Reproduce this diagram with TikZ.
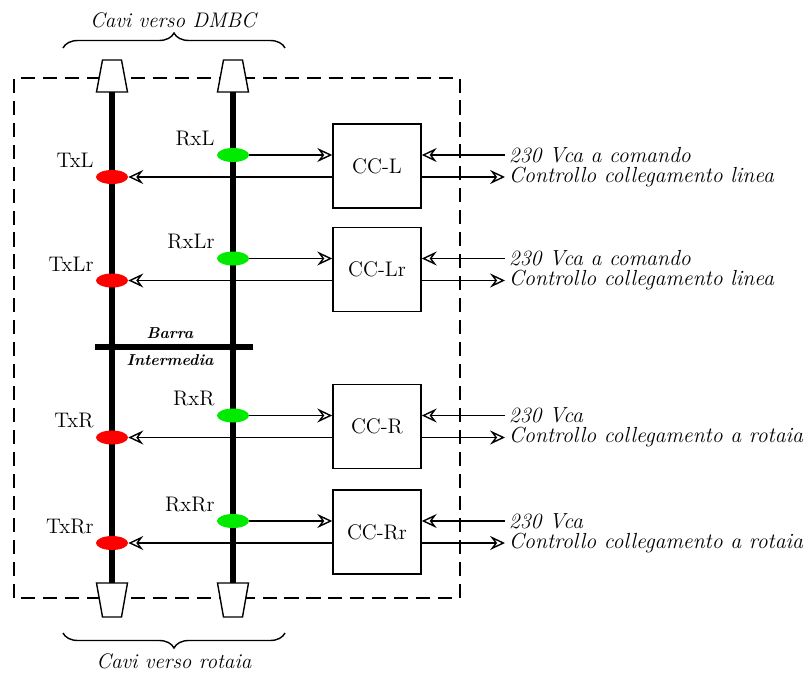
\documentclass[tikz,border=0pt]{standalone}
\usepackage{amsmath}
\usepackage{tikz}
\usetikzlibrary{arrows.meta, positioning, shapes.geometric, decorations.pathreplacing}

\definecolor{txred}{RGB}{255,0,0}
\definecolor{rxgreen}{RGB}{0,235,0}

\begin{document}
\begin{tikzpicture}[
        font=\large,
        bus/.style={line width=3.1pt},
        wire/.style={line width=0.8pt},
        sig/.style={line width=0.8pt, -{Stealth[open, length=8.5pt, width=8pt, inset=3pt]}},
        txnode/.style={ellipse, fill=txred, minimum width=0.64cm, minimum height=0.28cm, inner sep=0pt},
        rxnode/.style={ellipse, fill=rxgreen, minimum width=0.64cm, minimum height=0.28cm, inner sep=0pt},
        ccbox/.style={draw, fill=white, line width=0.9pt, minimum width=1.76cm, minimum height=1.68cm, inner sep=0pt},
        conn/.style={draw, fill=white, line width=0.8pt, line join=miter},
        lbl/.style={inner sep=1pt, anchor=south east},
        ext/.style={anchor=west, inner sep=2pt, font=\fontsize{12.4}{14}\selectfont\itshape},
        brc/.style={decorate, decoration={brace, amplitude=0.3cm}, line width=0.8pt},
        jdot/.style={circle, fill=black, minimum size=0.18cm, inner sep=0pt}
    ]
        \useasboundingbox (0,0) rectangle (16.22,13.44);

        % Enclosure
        \draw[wire, dash pattern=on 8pt off 4.5pt] (0.28,1.48) rectangle (9.2,11.88);

        % Cable connectors
        \path[conn] (2.05,12.24) -- (2.43,12.24) -- (2.55,11.6) -- (1.93,11.6) -- cycle;
        \path[conn] (4.47,12.24) -- (4.85,12.24) -- (4.97,11.6) -- (4.35,11.6) -- cycle;
        \path[conn] (1.93,1.78) -- (2.55,1.78) -- (2.43,1.1) -- (2.05,1.1) -- cycle;
        \path[conn] (4.35,1.78) -- (4.97,1.78) -- (4.85,1.1) -- (4.47,1.1) -- cycle;
        \coordinate (topT) at (2.24,11.6);
        \coordinate (topR) at (4.66,11.6);
        \coordinate (botT) at (2.24,1.78);
        \coordinate (botR) at (4.66,1.78);

        % Braces
        \draw[brc] (1.26,12.48) -- (5.7,12.48);
        \node (dmbc) at (3.48,13.04) {\textit{Cavi verso DMBC}};
        \draw[brc] (5.7,0.78) -- (1.26,0.78);
        \node (rotaia) at (3.48,0.22) {\textit{Cavi verso rotaia}};

        % Buses
        \draw[bus] (topT) -- (botT);
        \draw[bus] (topR) -- (botR);

        % Barra Intermedia
        \coordinate (barA) at (1.9,6.5);
        \coordinate (barB) at (5.06,6.5);
        \draw[bus] (barA) -- (barB);
        \node[jdot] (jT) at (2.24,6.5) {};
        \node[jdot] (jR) at (4.66,6.5) {};
        \node[font=\fontsize{9}{10}\selectfont\bfseries\itshape] (barra) at (3.4,6.78) {Barra};
        \node[font=\fontsize{9}{10}\selectfont\bfseries\itshape] (interm) at (3.4,6.24) {Intermedia};

        % CC-L
        \node[ccbox] (ccL) at (7.54,10.12) {CC-L};
        \node[rxnode] (rxL) at (4.66,10.34) {};
        \node[txnode] (txL) at (2.24,9.9) {};
        \node[lbl] (rxLlab) at (rxL.west |- rxL.north) {RxL};
        \node[lbl] (txLlab) at (txL.west |- txL.north) {TxL};
        \draw[sig] (rxL.east) -- (rxL.east -| ccL.west);
        \draw[sig] (txL.east -| ccL.west) -- (txL.east);
        \coordinate (inL) at (10.1,10.34);
        \coordinate (outL) at (10.1,9.9);
        \draw[sig] (inL) -- (inL -| ccL.east);
        \draw[sig] (outL -| ccL.east) -- (outL);
        \node[ext] (vL) at (inL) {230 Vca a comando};
        \node[ext] (cL) at (outL) {Controllo collegamento linea};

        % CC-Lr
        \node[ccbox] (ccLr) at (7.54,8.05) {CC-Lr};
        \node[rxnode] (rxLr) at (4.66,8.27) {};
        \node[txnode] (txLr) at (2.24,7.83) {};
        \node[lbl] (rxLrlab) at (rxLr.west |- rxLr.north) {RxLr};
        \node[lbl] (txLrlab) at (txLr.west |- txLr.north) {TxLr};
        \draw[sig] (rxLr.east) -- (rxLr.east -| ccLr.west);
        \draw[sig] (txLr.east -| ccLr.west) -- (txLr.east);
        \coordinate (inLr) at (10.1,8.27);
        \coordinate (outLr) at (10.1,7.83);
        \draw[sig] (inLr) -- (inLr -| ccLr.east);
        \draw[sig] (outLr -| ccLr.east) -- (outLr);
        \node[ext] (vLr) at (inLr) {230 Vca a comando};
        \node[ext] (cLr) at (outLr) {Controllo collegamento linea};

        % CC-R
        \node[ccbox] (ccR) at (7.54,4.91) {CC-R};
        \node[rxnode] (rxR) at (4.66,5.13) {};
        \node[txnode] (txR) at (2.24,4.69) {};
        \node[lbl] (rxRlab) at (rxR.west |- rxR.north) {RxR};
        \node[lbl] (txRlab) at (txR.west |- txR.north) {TxR};
        \draw[sig] (rxR.east) -- (rxR.east -| ccR.west);
        \draw[sig] (txR.east -| ccR.west) -- (txR.east);
        \coordinate (inR) at (10.1,5.13);
        \coordinate (outR) at (10.1,4.69);
        \draw[sig] (inR) -- (inR -| ccR.east);
        \draw[sig] (outR -| ccR.east) -- (outR);
        \node[ext] (vR) at (inR) {230 Vca};
        \node[ext] (cR) at (outR) {Controllo collegamento a rotaia};

        % CC-Rr
        \node[ccbox] (ccRr) at (7.54,2.8) {CC-Rr};
        \node[rxnode] (rxRr) at (4.66,3.02) {};
        \node[txnode] (txRr) at (2.24,2.58) {};
        \node[lbl] (rxRrlab) at (rxRr.west |- rxRr.north) {RxRr};
        \node[lbl] (txRrlab) at (txRr.west |- txRr.north) {TxRr};
        \draw[sig] (rxRr.east) -- (rxRr.east -| ccRr.west);
        \draw[sig] (txRr.east -| ccRr.west) -- (txRr.east);
        \coordinate (inRr) at (10.1,3.02);
        \coordinate (outRr) at (10.1,2.58);
        \draw[sig] (inRr) -- (inRr -| ccRr.east);
        \draw[sig] (outRr -| ccRr.east) -- (outRr);
        \node[ext] (vRr) at (inRr) {230 Vca};
        \node[ext] (cRr) at (outRr) {Controllo collegamento a rotaia};
    \end{tikzpicture}
\end{document}
